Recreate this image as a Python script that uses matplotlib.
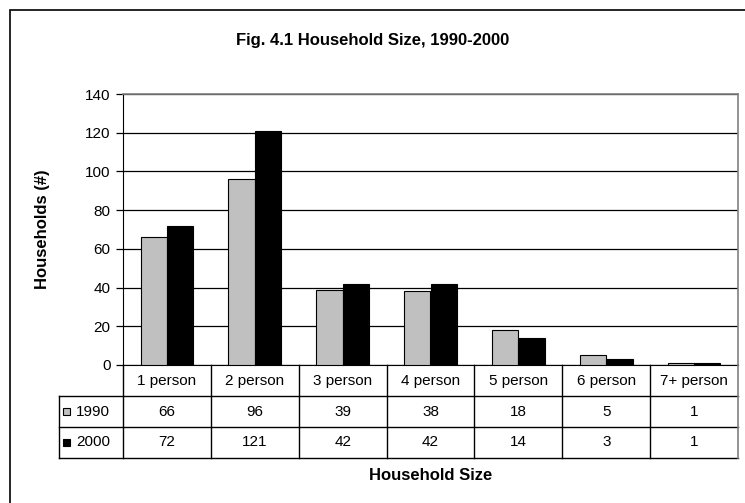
import matplotlib
matplotlib.use("Agg")
import matplotlib.pyplot as plt
from matplotlib.patches import Rectangle

plt.rcParams['font.family'] = ['Liberation Sans', 'DejaVu Sans']

categories = ["1 person", "2 person", "3 person", "4 person", "5 person", "6 person", "7+ person"]
series_names = ["1990", "2000"]
values_1990 = [66, 96, 39, 38, 18, 5, 1]
values_2000 = [72, 121, 42, 42, 14, 3, 1]
y_ticks = [0, 20, 40, 60, 80, 100, 120, 140]

W, H = 745, 503
fig = plt.figure(figsize=(W / 100, H / 100), dpi=100)
fig.patch.set_facecolor('white')

def fx(px):
    return px / W

def fy(py):
    return 1 - py / H

# outer chart border
fig.patches.append(Rectangle((fx(10), fy(520)), fx(760) - fx(10), fy(10) - fy(520),
                             transform=fig.transFigure, fill=False, edgecolor='black',
                             linewidth=1.2, zorder=0))

# plot area
L, R, T, B = 123, 738, 94, 365
ax = fig.add_axes([fx(L), fy(B), fx(R) - fx(L), fy(T) - fy(B)])
n = len(categories)
x = list(range(n))
bw = 0.30
colors = ['#C0C0C0', '#000000']
ax.bar([i - bw / 2 for i in x], values_1990, width=bw, color=colors[0], edgecolor='black', linewidth=0.8, zorder=3)
ax.bar([i + bw / 2 for i in x], values_2000, width=bw, color=colors[1], edgecolor='black', linewidth=0.8, zorder=3)
ax.set_xlim(-0.5, n - 0.5)
ax.set_ylim(0, 140)
ax.set_yticks(y_ticks)
ax.set_yticklabels([str(v) for v in y_ticks], fontsize=11)
ax.set_xticks([])
ax.yaxis.grid(True, color='black', linewidth=0.9, zorder=0)
ax.set_axisbelow(True)
for s in ['top', 'right']:
    ax.spines[s].set_color('#808080')
    ax.spines[s].set_linewidth(1.2)
ax.spines['left'].set_color('black')
ax.spines['bottom'].set_color('black')
ax.tick_params(axis='y', direction='out', length=5, width=0.9, pad=4, colors='black')

fig.text(fx(42), fy((T + B) / 2), "Households (#)", rotation=90, ha='center', va='center',
         fontsize=12, fontweight='bold')

# data table
TL, TB = 59, 458
left_u = -0.5 - (L - TL) / ((R - L) / n)
tax = fig.add_axes([fx(TL), fy(TB), fx(R) - fx(TL), fy(B) - fy(TB)])
tax.set_xlim(left_u, n - 0.5)
tax.set_ylim(0, 3)
tax.axis('off')
lw = 1.0
for yv in [0, 1, 2]:
    tax.plot([left_u, n - 0.5], [yv, yv], color='black', linewidth=lw, clip_on=False)
for k in range(n):
    tax.plot([k - 0.5, k - 0.5], [0, 3], color='black', linewidth=lw, clip_on=False)
tax.plot([n - 0.5, n - 0.5], [0, 3], color='#808080', linewidth=1.2, clip_on=False)
tax.plot([left_u, left_u], [0, 2], color='black', linewidth=lw, clip_on=False)

upx = (n - 0.5 - left_u) / (R - TL)  # data units per pixel (x)
for i, c in enumerate(categories):
    tax.text(i, 2.5, c, ha='center', va='center', fontsize=11)
for row, (name, vals, col) in enumerate(zip(series_names, [values_1990, values_2000], colors)):
    yc = 1.5 - row
    for i, v in enumerate(vals):
        tax.text(i, yc, str(v), ha='center', va='center', fontsize=11)
    sq_h = 7 / ((TB - B) / 3)
    tax.add_patch(Rectangle((left_u + 4 * upx, yc - sq_h / 2), 7 * upx, sq_h,
                            facecolor=col, edgecolor='black', linewidth=0.8, clip_on=False))
    tax.text(left_u + 17 * upx, yc, name, ha='left', va='center', fontsize=11)

fig.text(fx((L + R) / 2), fy(476), "Household Size", ha='center', va='center', fontsize=12, fontweight='bold')
fig.text(fx(372.5), fy(41), "Fig. 4.1 Household Size, 1990-2000", ha='center', va='center', fontsize=12, fontweight='bold')

fig.savefig("out.png", dpi=100)
